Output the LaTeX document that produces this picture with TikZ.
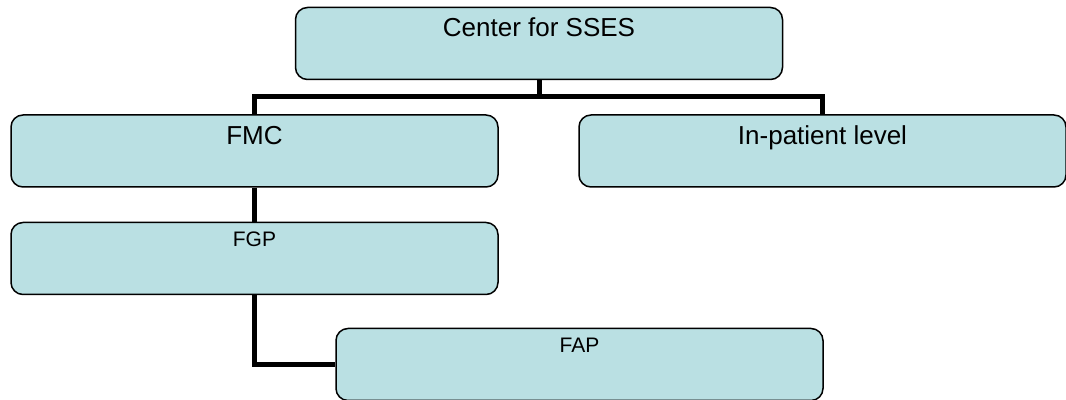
\documentclass[tikz,border=0pt]{standalone}
\usepackage{fontspec}
\setmainfont{Liberation Sans}
\usepackage{tikz}

\definecolor{boxfill}{RGB}{186,224,227}

\tikzset{
    unit/.style={rectangle, rounded corners=6pt, draw=black, line width=0.75pt,
        fill=boxfill, minimum width=243.5pt, minimum height=36pt, inner sep=0pt},
    bigunit/.style={unit, font=\fontsize{13pt}{15pt}\selectfont,
        text height=14.75pt, text depth=21.25pt},
    smallunit/.style={unit, font=\fontsize{10.5pt}{12pt}\selectfont,
        text height=12pt, text depth=24pt},
    link/.style={draw=black, line width=2.5pt}
}

\begin{document}
\begin{tikzpicture}[x=0.5pt, y=-0.5pt]

\useasboundingbox (0,0) rectangle (1066,400);

    %boxes
    \node[bigunit] (center) at (539,43.5) {Center for SSES};
    \node[bigunit] (fmc) at (254.5,151) {FMC};
    \node[bigunit] (inpat) at (822.5,151) {In-patient level};
    \node[smallunit] (fgp) at (254.5,258.5) {FGP};
    \node[smallunit] (fap) at (579.5,364.5) {FAP};

    %connectors
    \coordinate (bus) at (539,97);
    \draw[link] (center.south) -- (bus);
    \draw[link] (fmc.north) |- (bus) -| (inpat.north);
    \draw[link] (fmc.south) -- (fgp.north);
    \draw[link] (fgp.south) |- (fap.west);

\end{tikzpicture}
\end{document}
